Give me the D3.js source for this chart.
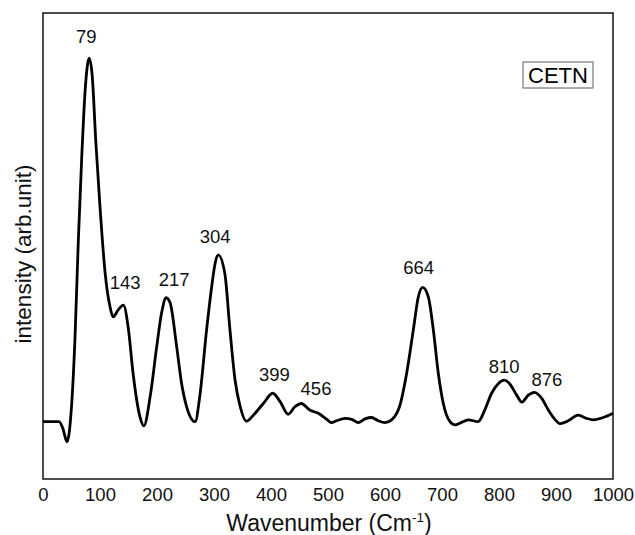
<!DOCTYPE html>
<html>
<head>
<meta charset="utf-8">
<script src="https://cdn.jsdelivr.net/npm/d3@7"></script>
<style>
  html, body { margin: 0; padding: 0; background: #fff; }
  svg { display: block; font-family: "Liberation Sans", Arial, sans-serif; }
</style>
</head>
<body>
<svg id="chart" width="635" height="535"></svg>
<script>
// ---- data ----
const wavenumber = [0, 28, 35, 42, 50, 56, 62, 68, 74, 81, 86.5, 92.5, 100, 109, 117.5, 123, 132, 141, 150, 158, 170, 177,
  188, 199.5, 208, 216, 223, 234.5, 243, 252, 267,
  275, 287, 296, 302, 307.5, 319, 328, 337, 346, 357,
  369, 386.5, 403, 416, 430, 442, 453, 468, 483, 498, 506, 515, 530, 541.5, 553, 565, 576.5, 588, 600, 611.5, 620.5,
  625.4, 638, 649.7, 658.5, 666, 676, 684.8, 693.5, 702.3, 714, 723,
  737, 746, 763.5, 775, 787, 799, 809, 819, 831, 840, 851.5, 862, 875, 886.5, 898, 907,
  921.6, 939, 954, 965.5, 983, 1000];
const intensity = [12.3, 12.3, 10.8, 8.0, 15.5, 29.8, 51.3, 69.2, 83.5, 90.3, 86.3, 72.7, 58.4, 44.2, 37.0, 34.8, 36.3, 37.3, 32.0, 22.7, 13.4, 11.4,
  17.7, 28.4, 35.6, 38.9, 37.8, 28.4, 20.6, 15.5, 12.3,
  17.7, 32.0, 41.3, 46.3, 48.1, 44.1, 32.0, 21.2, 15.5, 12.4,
  13.7, 16.2, 18.4, 16.6, 13.9, 15.5, 16.2, 14.8, 14.1, 12.8, 12.1, 12.5, 13.0, 12.8, 12.1, 12.9, 13.2, 12.5, 12.1, 12.7, 14.1,
  15.5, 22.7, 32.0, 39.1, 41.1, 39.1, 32.0, 22.7, 16.2, 12.3, 11.6,
  12.3, 12.7, 12.3, 14.8, 18.4, 20.5, 21.2, 20.4, 18.0, 16.5, 18.0, 18.6, 17.3, 14.8, 12.8, 11.9,
  12.5, 13.7, 13.0, 12.7, 13.2, 14.1];

const xTicks = [0, 100, 200, 300, 400, 500, 600, 700, 800, 900, 1000];

const peakLabels = ["79", "143", "217", "304", "399", "456", "664", "810", "876"];
const peakLabelX = [76, 144, 230, 302, 406, 479, 659, 809, 884];
const peakLabelY = [93.6, 40.8, 41.4, 50.6, 21.0, 18.0, 44.0, 22.7, 20.0];

const sampleName = "CETN";
const xTitle = "Wavenumber (Cm";
const xTitleSup = "-1";
const yTitle = "intensity (arb.unit)";

// ---- layout ----
const W = 635, H = 535;
const margin = { left: 43, top: 13, right: 22, bottom: 56 };
const iw = W - margin.left - margin.right;
const ih = H - margin.top - margin.bottom;

const svg = d3.select("#chart");
const g = svg.append("g").attr("transform", `translate(${margin.left},${margin.top})`);

const x = d3.scaleLinear().domain([0, 1000]).range([0, iw]);
const y = d3.scaleLinear().domain([0, 100]).range([ih, 0]);

// frame
g.append("rect")
  .attr("x", 0).attr("y", 0).attr("width", iw).attr("height", ih)
  .attr("fill", "none").attr("stroke", "#222").attr("stroke-width", 1.6);

// x axis labels (no tick marks)
const xAxis = d3.axisBottom(x).tickValues(xTicks).tickSize(0).tickPadding(9).tickFormat(d3.format("d"));
const xg = g.append("g").attr("transform", `translate(0,${ih})`).call(xAxis);
xg.select(".domain").remove();
xg.selectAll("text").attr("font-size", 18.5).attr("fill", "#111")
  .attr("font-family", "'Liberation Sans', Arial, sans-serif");

// curve
const pts = wavenumber.map((w, i) => [w, intensity[i]]);
const line = d3.line()
  .x(d => x(d[0]))
  .y(d => y(d[1]))
  .curve(d3.curveMonotoneX);
g.append("path")
  .datum(pts)
  .attr("d", line)
  .attr("fill", "none")
  .attr("stroke", "#000")
  .attr("stroke-width", 2.8)
  .attr("stroke-linejoin", "round");

// peak labels
g.selectAll("text.peak")
  .data(peakLabels)
  .enter().append("text")
  .attr("class", "peak")
  .attr("x", (d, i) => x(peakLabelX[i]))
  .attr("y", (d, i) => y(peakLabelY[i]))
  .attr("text-anchor", "middle")
  .attr("font-size", 18.5)
  .attr("fill", "#111")
  .text(d => d);

// sample name box
const boxX = 480, boxY = 49, boxW = 70, boxH = 26;
g.append("rect")
  .attr("x", boxX).attr("y", boxY).attr("width", boxW).attr("height", boxH)
  .attr("fill", "#fff").attr("stroke", "#777").attr("stroke-width", 1.2);
g.append("text")
  .attr("x", boxX + boxW / 2).attr("y", boxY + boxH / 2 + 8)
  .attr("text-anchor", "middle")
  .attr("font-size", 22)
  .attr("fill", "#000")
  .text(sampleName);

// axis titles
const xt = svg.append("text")
  .attr("x", margin.left + iw / 2 + 1)
  .attr("y", 531)
  .attr("text-anchor", "middle")
  .attr("font-size", 23)
  .attr("fill", "#111");
xt.append("tspan").text(xTitle);
xt.append("tspan").attr("font-size", 13.5).attr("dy", -9).text(xTitleSup);
xt.append("tspan").attr("dy", 9).text(")");

svg.append("text")
  .attr("transform", `translate(31,${254}) rotate(-90)`)
  .attr("text-anchor", "middle")
  .attr("font-size", 22.5)
  .attr("fill", "#111")
  .text(yTitle);
</script>
</body>
</html>
